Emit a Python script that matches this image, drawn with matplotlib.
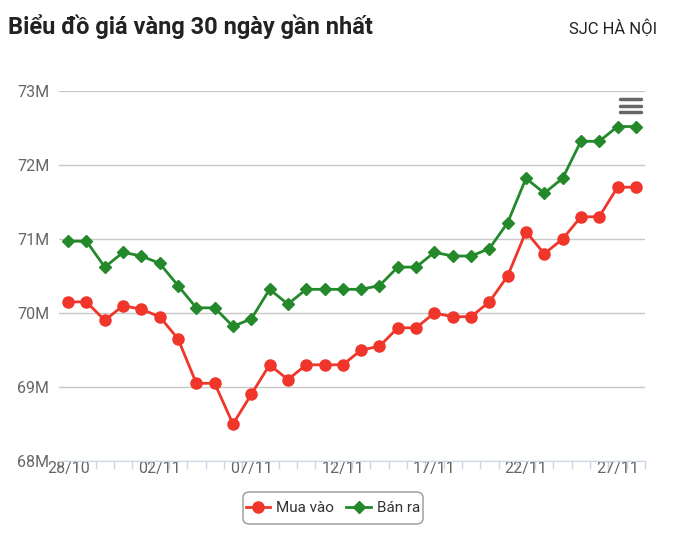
import matplotlib.pyplot as plt
from matplotlib.patches import FancyBboxPatch
from matplotlib.lines import Line2D

plt.rcParams['font.family'] = ['Roboto', 'DejaVu Sans']

# ngày: 28/10 -> 28/11
days = ["28/10", "29/10", "30/10", "31/10"] + ["%02d/11" % d for d in range(1, 29)]

mua_vao = [70.15, 70.15, 69.9, 70.1, 70.05, 69.95, 69.65, 69.05, 69.05, 68.5, 68.9,
           69.3, 69.1, 69.3, 69.3, 69.3, 69.5, 69.55, 69.8, 69.8, 70.0, 69.95,
           69.95, 70.15, 70.5, 71.1, 70.8, 71.0, 71.3, 71.3, 71.7, 71.7]
ban_ra = [70.97, 70.97, 70.62, 70.82, 70.77, 70.67, 70.37, 70.07, 70.07, 69.82, 69.92,
          70.32, 70.12, 70.32, 70.32, 70.32, 70.32, 70.37, 70.62, 70.62, 70.82, 70.77,
          70.77, 70.87, 71.22, 71.82, 71.62, 71.82, 72.32, 72.32, 72.52, 72.52]
y_ticks = [68, 69, 70, 71, 72, 73]

RED = "#f0352a"
GREEN = "#23892a"

W, H = 681, 547
fig = plt.figure(figsize=(W / 100, H / 100), dpi=100)
ax = fig.add_axes([59 / W, (H - 461) / H, (645 - 59) / W, (461 - 91) / H])

x = list(range(len(days)))
ax.plot(x, mua_vao, color=RED, lw=2, marker="o", ms=8, zorder=3, clip_on=False)
ax.plot(x, ban_ra, color=GREEN, lw=2, marker="D", ms=6, zorder=3, clip_on=False)

ax.set_xlim(-0.5, len(days) - 0.5)
ax.set_ylim(68, 73)

# trục y
ax.set_yticks(y_ticks)
ax.set_yticklabels(["%dM" % v for v in y_ticks])
ax.yaxis.grid(True, color="#c8c8c8", lw=1)
ax.tick_params(axis="y", length=0, pad=7, labelsize=11.5, labelcolor="#666666")

# trục x: vạch giữa các ngày, nhãn mỗi 5 ngày
ax.set_xticks([i - 0.5 for i in range(len(days) + 1)])
ax.set_xticklabels([])
ax.tick_params(axis="x", which="major", length=6, color="#ccd6eb", width=1)
lab_pos = x[::5]
ax.set_xticks(lab_pos, minor=True)
ax.set_xticklabels([days[i] for i in lab_pos], minor=True)
ax.tick_params(axis="x", which="minor", length=0, pad=0, labelsize=11.5, labelcolor="#666666")

for s in ["top", "right", "left"]:
    ax.spines[s].set_visible(False)
ax.spines["bottom"].set_color("#ccd6eb")
ax.set_axisbelow(True)

# tiêu đề
fig.text(8 / W, 1 - 27 / H, "Biểu đồ giá vàng 30 ngày gần nhất", fontsize=17,
         fontweight="bold", color="#222222", va="center", ha="left")
fig.text(657 / W, 1 - 28 / H, "SJC HÀ NỘI", fontsize=12, color="#222222",
         va="center", ha="right")

# menu icon
for yy in [99, 106, 112]:
    fig.add_artist(Line2D([620 / W, 641 / W], [1 - yy / H, 1 - yy / H], color="#666666",
                          lw=2.5, solid_capstyle="round"))

# legend
box = FancyBboxPatch((243 / W, 1 - 524 / H), 180 / W, 32 / H,
                     boxstyle="round,pad=0,rounding_size=0.01", transform=fig.transFigure,
                     facecolor="white", edgecolor="#999999", lw=1)
fig.add_artist(box)
handles = [Line2D([], [], color=RED, lw=2, marker="o", ms=8),
           Line2D([], [], color=GREEN, lw=2, marker="D", ms=6)]
fig.legend(handles, ["Mua vào", "Bán ra"], loc="center", bbox_to_anchor=(333 / W, 1 - 508 / H),
           ncol=2, frameon=False, fontsize=11, handlelength=1.6, handletextpad=0.4,
           columnspacing=0.8, labelcolor="#333333")

fig.savefig("out.png", dpi=100)
